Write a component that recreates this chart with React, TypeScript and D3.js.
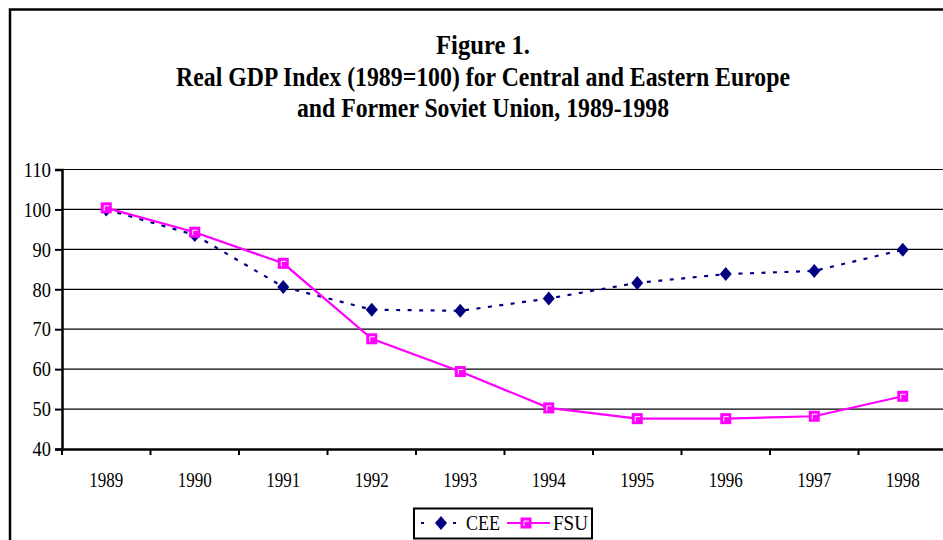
import * as d3 from "d3";
import { useEffect, useRef } from "react";

// values
const years = ["1989", "1990", "1991", "1992", "1993", "1994", "1995", "1996", "1997", "1998"];
const cee = [100, 93.6, 80.6, 74.9, 74.6, 77.7, 81.6, 83.8, 84.6, 89.9];
const fsu = [100.4, 94.3, 86.5, 67.6, 59.4, 50.3, 47.6, 47.6, 48.2, 53.2];
const yTicks = [40, 50, 60, 70, 80, 90, 100, 110];
const titleLines = [
  "Figure 1.",
  "Real GDP Index (1989=100) for Central and Eastern Europe",
  "and Former Soviet Union, 1989-1998",
];
const titleWidths = [94, 614, 372];

const App = () => {
  const ref = useRef<SVGSVGElement | null>(null);

  useEffect(() => {
    const svg = d3.select(ref.current);
    svg.selectAll("*").remove();

    const W = 943,
      H = 540;
    const left = 62,
      top = 169.5,
      bottom = 449;
    const band = 88.5;

    const font = "'Liberation Serif', 'Times New Roman', serif";

    // outer frame
    svg
      .append("rect")
      .attr("x", 10)
      .attr("y", 9.5)
      .attr("width", 1000)
      .attr("height", 600)
      .attr("fill", "white")
      .attr("stroke", "black")
      .attr("stroke-width", 2.5);

    // title
    svg
      .selectAll("text.title")
      .data(titleLines)
      .join("text")
      .attr("class", "title")
      .attr("x", 483)
      .attr("y", (d, i) => 54 + i * 31.5)
      .attr("text-anchor", "middle")
      .attr("font-family", font)
      .attr("font-weight", "bold")
      .attr("font-size", 27)
      .attr("textLength", (d, i) => titleWidths[i])
      .attr("lengthAdjust", "spacingAndGlyphs")
      .text((d) => d);

    const x = d3
      .scaleBand()
      .domain(years)
      .range([left, left + band * years.length]);

    const y = d3.scaleLinear().domain([40, 110]).range([bottom, top]);

    // gridlines
    svg
      .append("g")
      .selectAll("line")
      .data(yTicks.filter((t) => t > 40))
      .join("line")
      .attr("x1", left)
      .attr("x2", W)
      .attr("y1", (d) => y(d))
      .attr("y2", (d) => y(d))
      .attr("stroke", "black")
      .attr("stroke-width", 1.2);

    // y axis
    const yAxis = svg
      .append("g")
      .attr("transform", `translate(${left},0)`)
      .call(d3.axisLeft(y).tickValues(yTicks).tickSize(7).tickPadding(4));
    yAxis.select(".domain").attr("stroke-width", 2.5);
    yAxis.selectAll(".tick line").attr("stroke-width", 2);
    yAxis
      .selectAll(".tick text")
      .attr("font-family", font)
      .attr("font-size", 21)
      .attr("fill", "black")
      .attr("textLength", (d: any) => String(d).length * 9.2)
      .attr("lengthAdjust", "spacingAndGlyphs");

    // x axis
    const xAxis = svg
      .append("g")
      .attr("transform", `translate(0,${bottom})`)
      .call(d3.axisBottom(x).tickSize(0).tickPadding(0));
    xAxis.select(".domain").attr("stroke-width", 2.5);
    xAxis
      .selectAll(".tick text")
      .attr("font-family", font)
      .attr("font-size", 20)
      .attr("fill", "black")
      .attr("dy", 0)
      .attr("y", 38)
      .attr("textLength", 34)
      .attr("lengthAdjust", "spacingAndGlyphs");
    svg
      .append("g")
      .selectAll("line")
      .data(d3.range(years.length + 1))
      .join("line")
      .attr("x1", (i) => left + i * band)
      .attr("x2", (i) => left + i * band)
      .attr("y1", bottom)
      .attr("y2", bottom + 6)
      .attr("stroke", "black")
      .attr("stroke-width", 2);

    const cx = (i: number) => (x(years[i]) as number) + x.bandwidth() / 2;
    const line = d3
      .line<number>()
      .x((d, i) => cx(i))
      .y((d) => y(d));

    const navy = "#000080",
      magenta = "#ff00ff";

    // CEE
    svg
      .append("path")
      .attr("d", line(cee))
      .attr("fill", "none")
      .attr("stroke", navy)
      .attr("stroke-width", 2.2)
      .attr("stroke-dasharray", "4,7.5");

    const diamond = (px: number, py: number) =>
      `M${px},${py - 7}L${px + 6},${py}L${px},${py + 7}L${px - 6},${py}Z`;

    svg
      .append("g")
      .selectAll("path")
      .data(cee)
      .join("path")
      .attr("d", (d, i) => diamond(cx(i), y(d)))
      .attr("fill", navy);

    // FSU
    svg
      .append("path")
      .attr("d", line(fsu))
      .attr("fill", "none")
      .attr("stroke", magenta)
      .attr("stroke-width", 2.2);

    const square = (g: any, px: number, py: number) => {
      g.append("rect")
        .attr("x", px - 5.5)
        .attr("y", py - 5.5)
        .attr("width", 11)
        .attr("height", 11)
        .attr("fill", magenta);
      g.append("path")
        .attr("d", `M${px - 2},${py + 3}V${py - 2}H${px + 3}`)
        .attr("fill", "none")
        .attr("stroke", "white")
        .attr("stroke-width", 1);
    };

    const sq = svg.append("g");
    fsu.forEach((d, i) => square(sq, cx(i), y(d)));

    // legend
    const lg = svg.append("g");
    lg.append("rect")
      .attr("x", 414)
      .attr("y", 508.5)
      .attr("width", 178)
      .attr("height", 30)
      .attr("fill", "white")
      .attr("stroke", "black")
      .attr("stroke-width", 2);
    const ly = 523;
    lg.append("line")
      .attr("x1", 421)
      .attr("x2", 460)
      .attr("y1", ly)
      .attr("y2", ly)
      .attr("stroke", navy)
      .attr("stroke-width", 2.2)
      .attr("stroke-dasharray", "3,13");
    lg.append("path").attr("d", diamond(441, ly)).attr("fill", navy);
    lg.append("text")
      .attr("x", 466)
      .attr("y", ly + 7)
      .attr("font-family", font)
      .attr("font-size", 21)
      .attr("textLength", 34)
      .attr("lengthAdjust", "spacingAndGlyphs")
      .text("CEE");
    lg.append("line")
      .attr("x1", 507)
      .attr("x2", 550)
      .attr("y1", ly)
      .attr("y2", ly)
      .attr("stroke", magenta)
      .attr("stroke-width", 2.2);
    square(lg, 526, ly);
    lg.append("text")
      .attr("x", 553)
      .attr("y", ly + 7)
      .attr("font-family", font)
      .attr("font-size", 21)
      .attr("textLength", 35)
      .attr("lengthAdjust", "spacingAndGlyphs")
      .text("FSU");

    svg.attr("width", W).attr("height", H);
  }, []);

  return (
    <svg
      ref={ref}
      width={943}
      height={540}
      style={{ position: "absolute", left: 0, top: 0, background: "white" }}
    />
  );
};

export default App;
